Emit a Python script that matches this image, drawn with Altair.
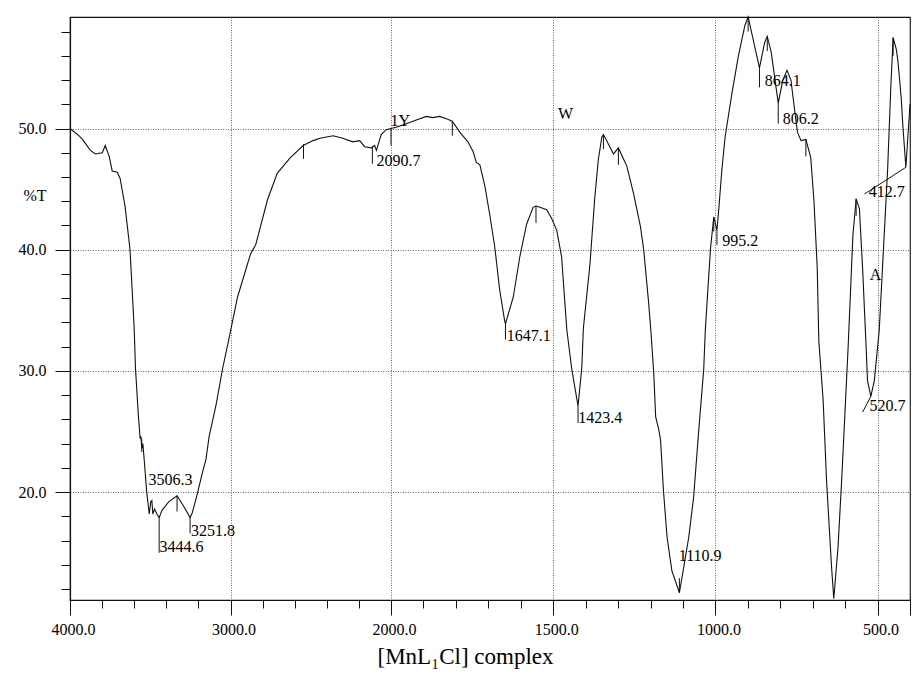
import altair as alt
import pandas as pd

# IR spectrum trace: wavenumber (cm-1) and transmittance (%T)
wavenumber = [
    4000, 3943, 3922, 3873, 3842, 3799, 3780, 3756, 3737, 3706, 3688, 3657, 3626,
    3600, 3592, 3574, 3563, 3558, 3553, 3546, 3536, 3522, 3506.3, 3497, 3490, 3484,
    3473, 3459, 3444.6, 3427, 3385, 3333, 3290, 3251.8, 3238, 3206, 3175, 3153, 3133,
    3090, 3049, 3006, 2956, 2874, 2843, 2770, 2709, 2627, 2547, 2485, 2442, 2361,
    2300, 2238, 2195, 2164, 2123, 2102, 2090.7, 2061, 2030, 2000,
    1984, 1953, 1922, 1891, 1872, 1850, 1829, 1811, 1788, 1763, 1747, 1737, 1726,
    1711, 1695, 1680, 1665, 1650, 1647.1, 1623, 1603, 1582, 1562, 1553, 1541, 1520,
    1505, 1489, 1474, 1458, 1443, 1423.4, 1412, 1407, 1387, 1372, 1361, 1350, 1345,
    1314, 1299, 1273, 1252, 1231, 1221, 1206, 1198, 1190, 1184, 1174, 1169, 1160,
    1149, 1134, 1110.9, 1097, 1082, 1067, 1051, 1036, 1031, 1015, 1005, 995.2, 989,
    980, 970, 949, 929, 909, 899, 884, 864.1, 848, 840, 828, 806.2, 792, 779, 767,
    757, 747, 736, 721, 706, 696, 686, 681, 668, 657, 642, 635, 622, 611, 601, 591,
    576, 566, 556, 546, 536, 531, 520.7, 510, 495, 485, 469, 459, 452, 442, 437,
    432, 427, 422, 412.7, 400,
]
transmittance = [
    50.0, 49.4, 49.1, 48.2, 47.9, 48.0, 48.6, 47.7, 46.5, 46.4, 45.9, 43.6, 40.0,
    33.5, 30.2, 26.3, 24.4, 24.6, 23.6, 24.0, 22.4, 20.0, 18.2, 19.2, 19.3, 18.2,
    18.6, 18.2, 17.9, 18.5, 19.2, 19.7, 18.8, 17.9, 18.3, 19.9, 21.6, 22.7, 24.6,
    27.2, 30.2, 32.9, 36.1, 39.7, 40.4, 44.1, 46.3, 47.6, 48.6, 49.0, 49.2, 49.4,
    49.2, 48.9, 49.0, 48.5, 48.4, 48.6, 48.2, 49.5, 49.9, 50.0,
    50.1, 50.4, 50.7, 51.0, 50.9, 51.0, 50.8, 50.6, 49.7, 48.9, 48.1, 47.2, 47.0,
    45.3, 42.8, 40.2, 36.7, 34.2, 33.9, 36.1, 39.4, 42.1, 43.5, 43.6, 43.5, 43.3,
    42.6, 41.6, 39.4, 33.4, 30.2, 27.1, 30.2, 33.5, 38.7, 44.2, 47.4, 49.3, 49.5,
    47.9, 48.4, 46.9, 44.6, 41.9, 40.0, 35.7, 33.0, 29.8, 26.2, 25.1, 24.3, 20.1,
    16.3, 13.5, 11.7, 13.9, 16.3, 19.6, 25.2, 30.1, 33.4, 40.1, 42.7, 41.6, 43.5,
    46.6, 49.3, 52.9, 56.0, 58.5, 59.2, 57.4, 55.0, 57.1, 57.6, 56.3, 52.1, 54.0, 54.8, 54.0,
    51.8, 49.7, 49.0, 49.1, 47.6, 44.0, 38.5, 32.4, 27.7, 20.8, 13.9, 11.2, 15.4, 20.8, 26.3, 31.8,
    41.2, 44.2, 43.4, 38.4, 32.4, 29.2, 27.9, 29.2, 33.3, 38.4, 46.6, 53.5, 57.5, 56.5, 55.5,
    54.0, 52.5, 50.2, 46.8, 52.0,
]

# Peak-pick ticks hanging from the trace
tick_wn = [3553, 3444.6, 3333, 3251.8, 2545, 2116, 2000, 1811, 1647.1, 1553, 1423.4,
           1345, 1299, 1110.9, 1005, 995.2, 899, 864.1, 840, 806.2, 721, 566, 452]
tick_top = [24.4, 17.9, 19.7, 17.9, 48.7, 48.5, 50.0, 50.6, 33.9, 43.6, 27.1,
            49.5, 48.4, 11.7, 42.7, 41.6, 59.2, 55.0, 57.6, 52.1, 49.1, 44.2, 57.5]
tick_bottom = [23.3, 15.0, 18.4, 16.6, 47.5, 47.1, 48.6, 49.4, 32.6, 42.2, 25.7,
               48.3, 47.0, 12.9, 41.5, 40.4, 58.0, 53.4, 56.4, 50.4, 47.7, 42.8, 56.0]

# Peak wavenumber labels
label_text = ["3506.3", "3444.6", "3251.8", "2090.7", "1647.1", "1423.4",
              "1110.9", "995.2", "864.1", "806.2", "412.7", "520.7"]
label_wn = [3511, 3442, 3246, 2090, 1643, 1423, 1113, 979, 848, 792, 527, 525]
label_t = [21.0, 15.5, 16.8, 47.3, 32.9, 26.1, 14.7, 40.7, 53.9, 50.8, 44.8, 27.1]

# Leader lines joining two labels to their bands
leader_wn = [540, 546]
leader_t = [44.6, 26.6]
leader_wn_end = [412.7, 520.7]
leader_t_end = [46.8, 27.9]

# Letter annotations on the trace
note_text = ["1Y", "W", "A"]
note_wn = [2003, 1485, 524]
note_t = [50.6, 51.2, 37.9]

# Axis tick positions
major_x = [4000, 3000, 2000, 1500, 1000, 500, 400]
minor_x = [3800, 3600, 3400, 3200, 2800, 2600, 2400, 2200, 1900, 1800, 1700, 1600,
           1400, 1300, 1200, 1100, 900, 800, 700, 600]
major_y = [20, 30, 40, 50]
minor_y = [12, 14, 16, 18, 22, 24, 26, 28, 32, 34, 36, 38, 42, 44, 46, 48,
           52, 54, 56, 58]

SERIF = "Liberation Serif"
INK = "#111111"

spectrum = pd.DataFrame({"wn": wavenumber, "t": transmittance,
                         "i": list(range(len(wavenumber)))})
ticks = pd.DataFrame({"wn": tick_wn, "t1": tick_top, "t2": tick_bottom})
labels = pd.DataFrame({"label": label_text, "wn": label_wn, "t": label_t})
leaders = pd.DataFrame({"wn": leader_wn, "t": leader_t,
                        "wn2": leader_wn_end, "t2": leader_t_end})
notes = pd.DataFrame({"label": note_text, "wn": note_wn, "t": note_t})

# Instrument-style x scale: compressed above 2000 cm-1, expanded below
x_scale = alt.Scale(domain=[4000, 2000, 400], range=[0, 321, 840], nice=False, zero=False)
y_scale = alt.Scale(domain=[11.1, 59.2], nice=False, zero=False)

x_major = alt.Axis(
    orient="bottom", values=major_x, tickSize=15, tickColor=INK, tickWidth=1,
    labelExpr="datum.value == 400 ? '' : format(datum.value, '.1f')",
    labelFont=SERIF, labelFontSize=16, labelColor="black", labelPadding=6,
    labelOffset=3, labelFlush=False, labelOverlap=False,
    domainColor=INK, domainWidth=1.2,
    grid=True, gridColor="#555555", gridDash=[1, 1.5], gridWidth=0.9,
    title="[MnL₁Cl] complex", titleFont=SERIF, titleFontSize=23,
    titleFontWeight="normal", titleColor="black", titleX=395, titleY=63,
    titleBaseline="alphabetic",
)
y_major = alt.Axis(
    orient="left", values=major_y, format=".1f", tickSize=15, tickColor=INK,
    labelFont=SERIF, labelFontSize=16, labelColor="black", labelPadding=9,
    labelFlush=False, labelOverlap=False,
    domainColor=INK, domainWidth=1.2,
    grid=True, gridColor="#555555", gridDash=[1, 1.5], gridWidth=0.9,
    title="%T", titleFont=SERIF, titleFontSize=16, titleFontWeight="normal",
    titleColor="black", titleAngle=0, titleAlign="right", titleBaseline="middle",
    titleX=-24, titleY=178,
)
x_minor = alt.Axis(orient="bottom", values=minor_x, tickSize=8, tickColor=INK,
                   labels=False, grid=False, domain=False, title=None)
y_minor = alt.Axis(orient="left", values=minor_y, tickSize=9, tickColor=INK,
                   labels=False, grid=False, domain=False, title=None)

trace = alt.Chart(spectrum).mark_line(color=INK, strokeWidth=1.1).encode(
    x=alt.X("wn:Q", scale=x_scale, axis=x_major),
    y=alt.Y("t:Q", scale=y_scale, axis=y_major),
    order="i:Q",
)

peak_ticks = alt.Chart(ticks).mark_rule(color=INK, strokeWidth=1).encode(
    x=alt.X("wn:Q", scale=x_scale, axis=x_minor),
    y=alt.Y("t1:Q", scale=y_scale, axis=y_minor),
    y2="t2:Q",
)

leader_lines = alt.Chart(leaders).mark_rule(color=INK, strokeWidth=1).encode(
    x=alt.X("wn:Q", scale=x_scale, axis=None),
    y=alt.Y("t:Q", scale=y_scale, axis=None),
    x2="wn2:Q",
    y2="t2:Q",
)

peak_labels = alt.Chart(labels).mark_text(
    align="left", baseline="middle", font=SERIF, fontSize=16, color="black"
).encode(
    x=alt.X("wn:Q", scale=x_scale, axis=None),
    y=alt.Y("t:Q", scale=y_scale, axis=None),
    text="label:N",
)

letter_notes = alt.Chart(notes).mark_text(
    align="left", baseline="middle", font=SERIF, fontSize=16, color="black"
).encode(
    x=alt.X("wn:Q", scale=x_scale, axis=None),
    y=alt.Y("t:Q", scale=y_scale, axis=None),
    text="label:N",
)

chart = (
    alt.layer(trace, peak_ticks, leader_lines, peak_labels, letter_notes)
    .resolve_axis(x="independent", y="independent")
    .properties(
        width=840,
        height=583,
        padding={"left": 70, "top": 17, "right": 2, "bottom": 75},
        autosize=alt.AutoSizeParams(type="none"),
        background="white",
    )
    .configure_view(stroke=INK, strokeWidth=1.2)
)

chart.save("out.html", embed_options={"renderer": "svg", "actions": False})
